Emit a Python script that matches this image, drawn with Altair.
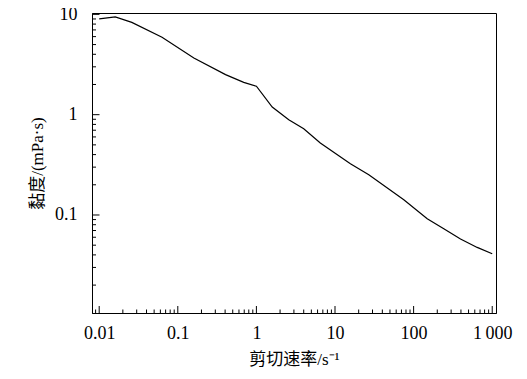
import altair as alt
import pandas as pd

# Curve (shear rate in 1/s, viscosity in mPa·s)
shear_rate = [0.01, 0.016, 0.026, 0.063, 0.16, 0.405, 0.69, 1.0, 1.59, 2.58,
              4.0, 6.5, 15.7, 26.9, 41.8, 75, 149, 242, 395, 644, 1000]
viscosity = [9.0, 9.42, 8.32, 5.91, 3.67, 2.51, 2.10, 1.92, 1.19, 0.89,
             0.725, 0.522, 0.324, 0.252, 0.197, 0.142, 0.0918, 0.0729, 0.0577, 0.0475, 0.0411]

x_major = [0.01, 0.1, 1, 10, 100, 1000]
x_labels = ["0.01", "0.1", "1", "10", "100", "1\u2009000"]
y_major = [0.1, 1, 10]
y_labels = ["0.1", "1", "10"]
x_minor = [0.009] + [m * 10.0 ** k for k in range(-2, 3) for m in range(2, 10)]
y_minor = [m * 10.0 ** k for k in (-2, -1, 0) for m in range(2, 10)]

x_title = "剪切速率/s\u207b\u00b9"
y_title = "黏度/(mPa·s)"

W, H = 404, 300
SERIF = "Liberation Serif"
TITLE_FONT = "Liberation Serif, Noto Sans CJK SC"


def label_expr(values, labels):
    expr = "''"
    for v, l in zip(values, labels):
        expr = f"abs(datum.value - {v}) < {v} * 0.001 ? '{l}' : ({expr})"
    return expr


xs = alt.Scale(type="log", domain=[0.0081, 1117], nice=False)
ys = alt.Scale(type="log", domain=[0.01054, 10.32], nice=False)

x_axis = alt.Axis(
    values=x_major, ticks=False, grid=False,
    labelExpr=label_expr(x_major, x_labels),
    labelFont=SERIF, labelFontSize=18, labelColor="black",
    labelPadding=11, labelFlush=False, labelOverlap=False,
    domainColor="black", domainWidth=1,
    title=x_title, titleFont=TITLE_FONT, titleFontSize=17,
    titleFontWeight="normal", titleColor="black",
    titleX=W / 2, titleY=46, titleAlign="center", titleBaseline="middle")
y_axis = alt.Axis(
    values=y_major, ticks=False, grid=False,
    labelExpr=label_expr(y_major, y_labels),
    labelFont=SERIF, labelFontSize=18, labelColor="black",
    labelPadding=15, labelFlush=False, labelOverlap=False,
    domainColor="black", domainWidth=1,
    title=y_title, titleFont=TITLE_FONT, titleFontSize=17,
    titleFontWeight="normal", titleColor="black", titleAngle=-90,
    titleX=-55, titleY=H / 2, titleAlign="center", titleBaseline="middle")

df = pd.DataFrame({"v": shear_rate, "w": viscosity})

line = alt.Chart(df).mark_line(color="black", strokeWidth=1.2).encode(
    x=alt.X("v:Q", scale=xs, axis=x_axis, title=x_title),
    y=alt.Y("w:Q", scale=ys, axis=y_axis, title=y_title),
)

x_major_ticks = alt.Chart(pd.DataFrame({"v": x_major})).mark_rule(color="black", strokeWidth=1).encode(
    x=alt.X("v:Q", scale=xs, axis=x_axis, title=x_title), y=alt.value(H), y2=alt.value(H - 7))
x_minor_ticks = alt.Chart(pd.DataFrame({"v": x_minor})).mark_rule(color="black", strokeWidth=1).encode(
    x=alt.X("v:Q", scale=xs, axis=x_axis, title=x_title), y=alt.value(H), y2=alt.value(H - 3.5))
y_major_ticks = alt.Chart(pd.DataFrame({"w": y_major})).mark_rule(color="black", strokeWidth=1).encode(
    y=alt.Y("w:Q", scale=ys, axis=y_axis, title=y_title), x=alt.value(0), x2=alt.value(7.5))
y_minor_ticks = alt.Chart(pd.DataFrame({"w": y_minor})).mark_rule(color="black", strokeWidth=1).encode(
    y=alt.Y("w:Q", scale=ys, axis=y_axis, title=y_title), x=alt.value(0), x2=alt.value(4))

chart = alt.layer(line, x_major_ticks, x_minor_ticks, y_major_ticks, y_minor_ticks).properties(
    width=W, height=H,
    autosize=alt.AutoSizeParams(type="none"),
    padding={"left": 84, "top": 5, "right": 20, "bottom": 55},
    background="white",
).configure_view(stroke="black", strokeWidth=1)

chart.save("out.html", embed_options={"renderer": "svg", "actions": False})
